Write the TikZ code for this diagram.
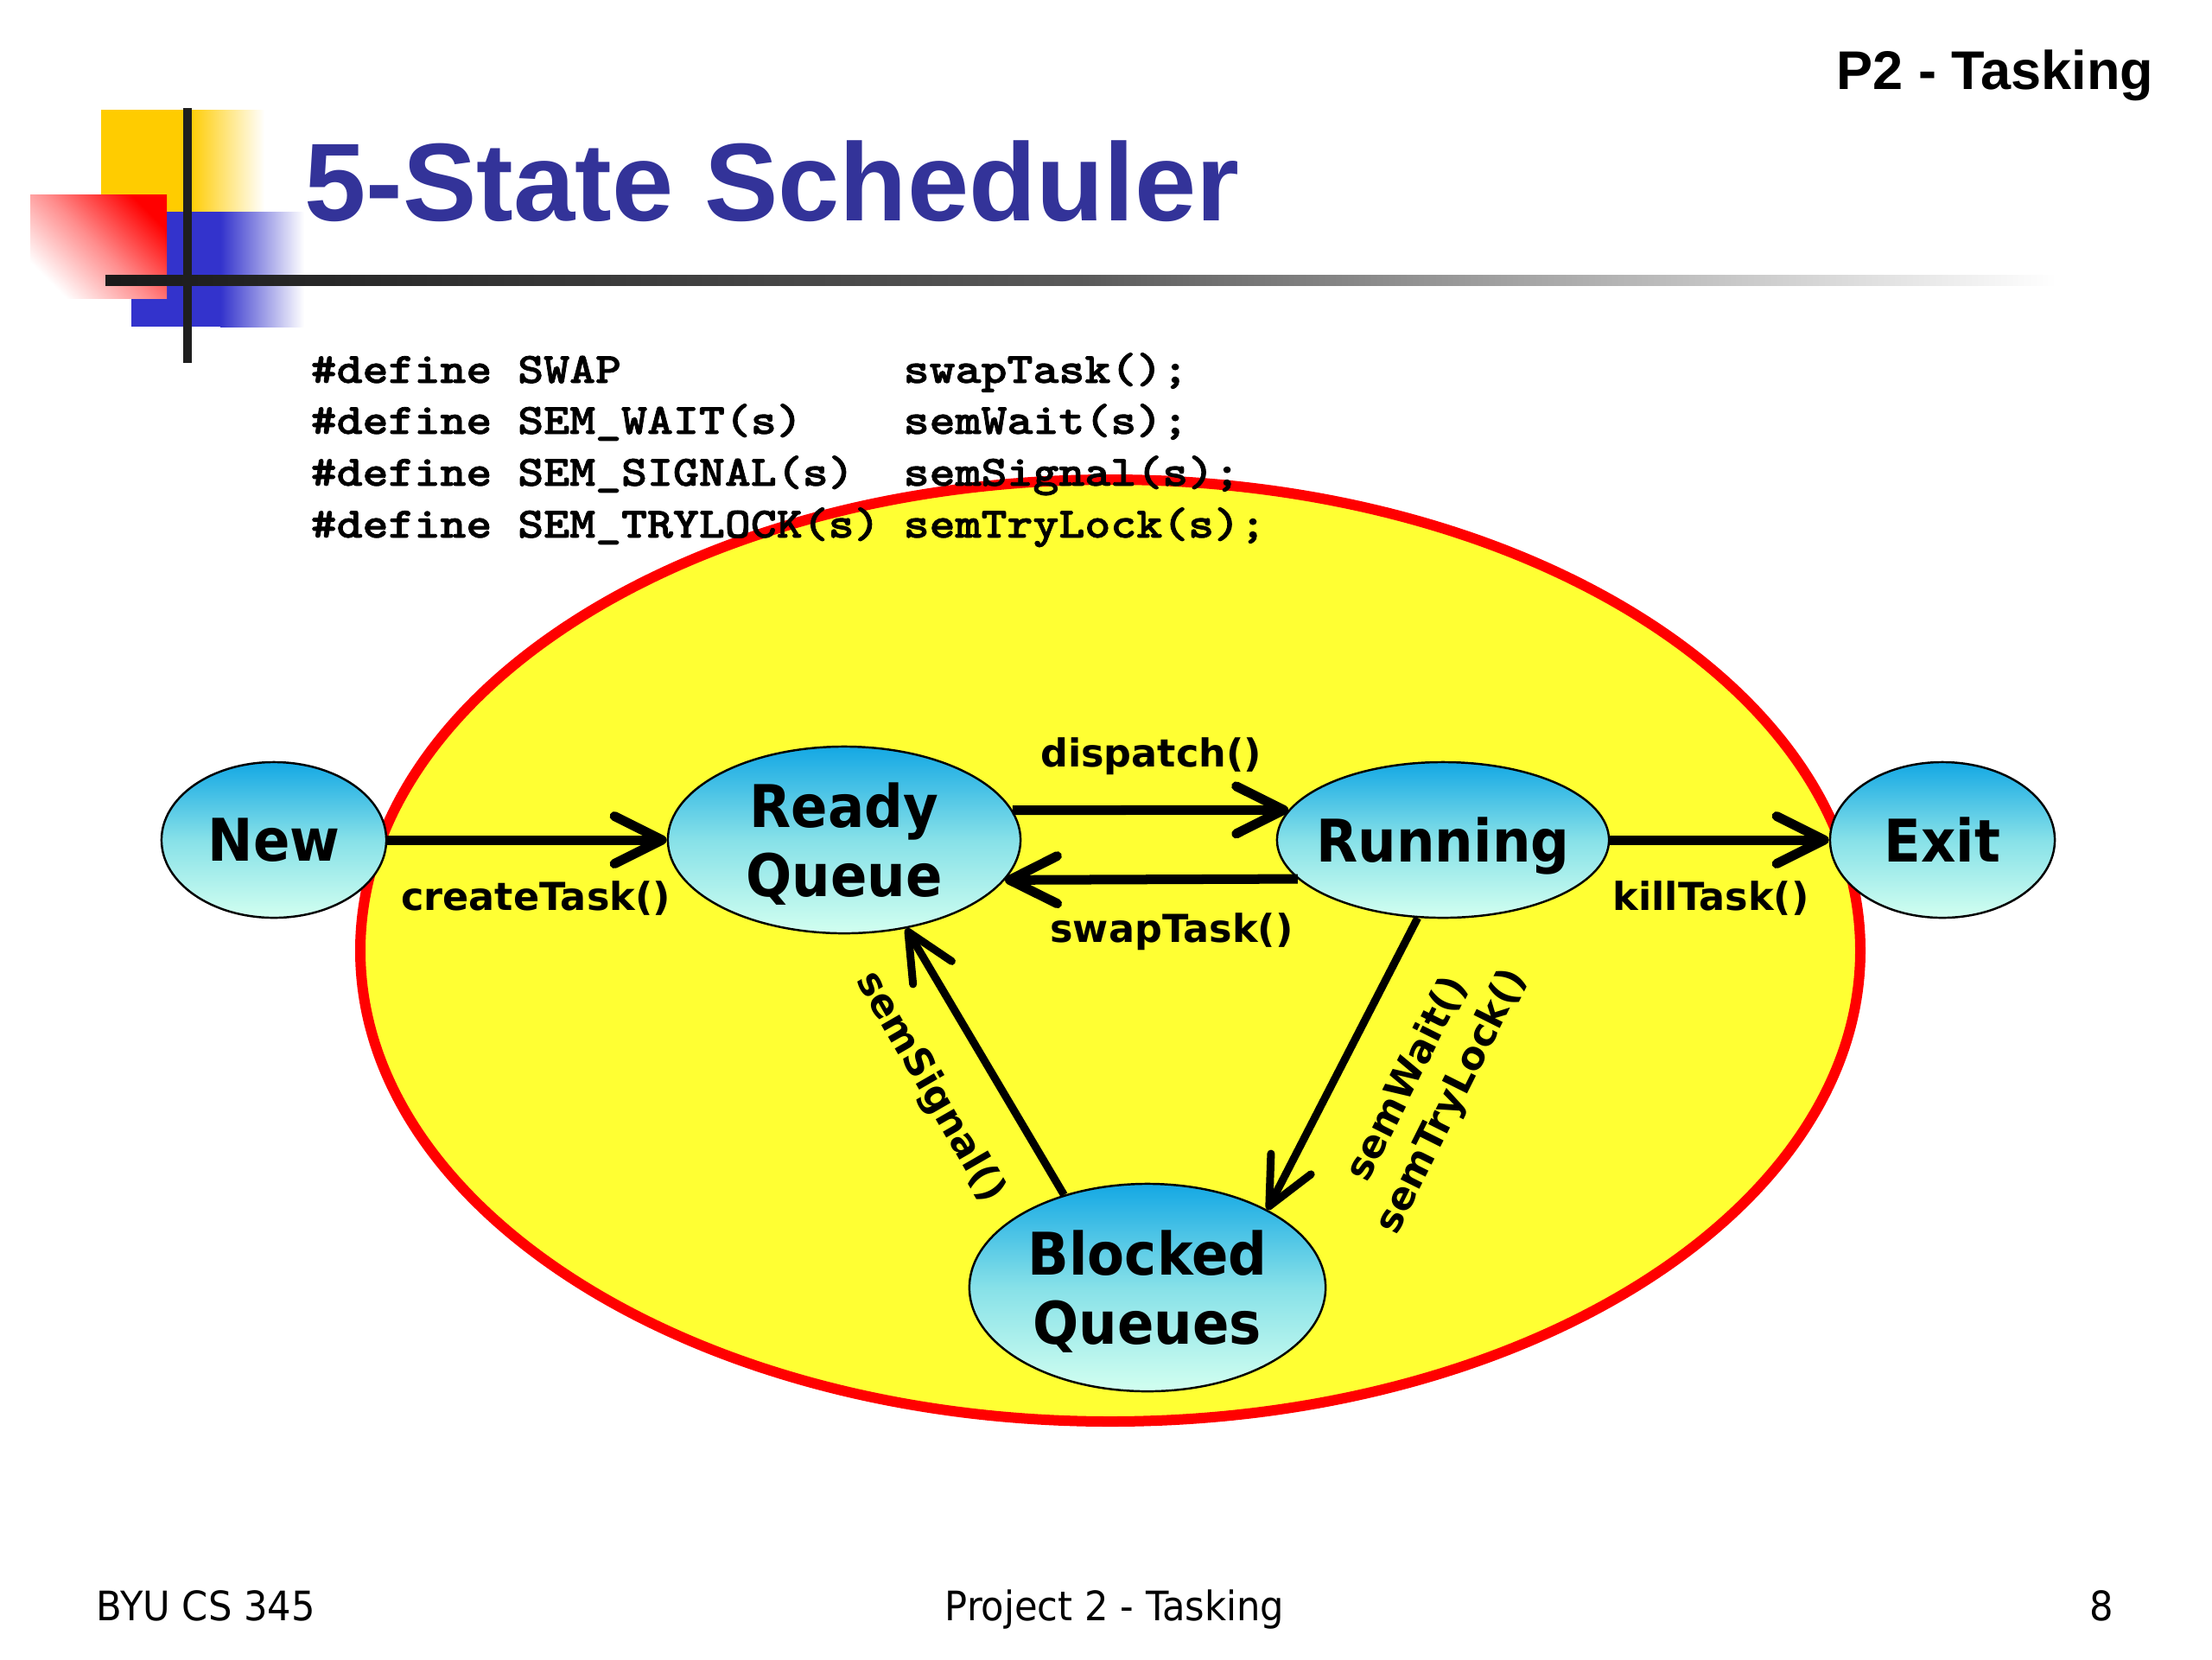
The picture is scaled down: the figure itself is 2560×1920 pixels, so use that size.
\documentclass[tikz,border=0pt]{standalone}
\usepackage{fontspec}
\setmainfont{DejaVu Sans}
\newfontfamily\titlefont{Liberation Sans}
\newfontfamily\codefont{lmmonolt10-bold}[Extension=.otf, FakeStretch=1.14, FakeBold=1.6]
\newfontfamily\nodefont{DejaVu Sans}[FakeStretch=0.92]
\usetikzlibrary{arrows.meta,shapes.geometric}
\definecolor{titleblue}{RGB}{51,51,153}
\definecolor{bigfill}{RGB}{255,255,51}
\definecolor{bigline}{RGB}{255,0,0}
\definecolor{sttop}{RGB}{20,168,228}
\definecolor{stmid}{RGB}{135,225,232}
\definecolor{stbot}{RGB}{210,255,240}
\definecolor{decoyellow}{RGB}{255,204,0}
\definecolor{decoblue}{RGB}{51,51,204}
\definecolor{decored}{RGB}{255,0,0}
\begin{document}
\begin{tikzpicture}[x=0.01cm,y=-0.01cm,
  state/.style={ellipse, draw=black, line width=0.7pt,
    top color=sttop, bottom color=stbot, middle color=stmid,
    inner xsep=-0.2cm, inner ysep=0pt, align=center, text depth=0pt,
    font=\nodefont\bfseries\fontsize{19.35pt}{22.76pt}\selectfont},
  lbl/.style={font=\bfseries\fontsize{12.66pt}{16.2pt}\selectfont, inner sep=0pt, align=center},
  code/.style={font=\codefont\fontsize{14.23pt}{17pt}\selectfont, anchor=base west, inner sep=0pt},
  foot/.style={font=\nodefont\fontsize{13.37pt}{16pt}\selectfont, inner sep=0pt},
  harr/.style={line width=0.11cm, -{Straight Barb[length=0.55cm,width=0.55cm,round]}},
  darr/.style={line width=0.09cm, -{Straight Barb[length=0.55cm,width=0.52cm,round]}},
]
\useasboundingbox (0,0) rectangle (2560,1920);
\fill[white] (0,0) rectangle (2560,1920);

% corner decoration
\fill[decoyellow] (117,127) rectangle (221,245);
\shade[left color=decoyellow, right color=white] (219,127) rectangle (306,245);
\fill[decoblue] (152,245) rectangle (257,378);
\shade[left color=decoblue, right color=white] (255,245) rectangle (352,378);
\shade[shading=axis, top color=decored, bottom color=white, middle color=decored!45, shading angle=-45] (35,225) rectangle (193,345);
\shade[left color=black!90, right color=white, middle color=black!65] (122,318) rectangle (2380,330);
\fill[black!88] (212,125) rectangle (222,420);

% big ellipse
\draw[line width=0.12cm, draw=bigline, fill=bigfill] (1285,1100) ellipse [x radius=868, y radius=545];

% header and title
\node[anchor=base east, inner sep=0pt, font=\titlefont\bfseries\fontsize{17.93pt}{20pt}\selectfont] (header) at (2493,103) {P2 - Tasking};
\node[anchor=base west, inner sep=0pt, font=\titlefont\bfseries\fontsize{36.42pt}{40pt}\selectfont, text=titleblue] (title) at (352,255) {5-State Scheduler};

% code
\node[code] (c1a) at (359,443) {\#define SWAP};
\node[code] (c1b) at (1045,443) {swapTask();};
\node[code] (c2a) at (359,502) {\#define SEM\_WAIT(s)};
\node[code] (c2b) at (1045,502) {semWait(s);};
\node[code] (c3a) at (359,562) {\#define SEM\_SIGNAL(s)};
\node[code] (c3b) at (1045,562) {semSignal(s);};
\node[code] (c4a) at (359,622) {\#define SEM\_TRYLOCK(s)};
\node[code] (c4b) at (1045,622) {semTryLock(s);};

% states
\node[state, minimum width=2.6cm, minimum height=1.8cm] (new) at (317,972) {New};
\node[state, minimum width=4.08cm, minimum height=2.16cm] (ready) at (977,972) {Ready\\Queue};
\node[state, minimum width=3.84cm, minimum height=1.8cm] (running) at (1670,972) {Running};
\node[state, minimum width=2.6cm, minimum height=1.8cm] (exit) at (2248,972) {Exit};
\node[state, minimum width=4.12cm, minimum height=2.4cm] (blocked) at (1328,1490) {Blocked\\Queues};

% transitions
\draw[harr] (new.east) -- (ready.west);
\draw[harr] (ready.10) -- (running.169);
\draw[harr] (running.195) -- (ready.-14);
\draw[harr] (running.east) -- (exit.west);
\draw[darr] (blocked.132) -- (ready.-55);
\draw[darr] (running.252) -- (blocked.33);

% labels
\node[lbl, anchor=base] (lcreate) at (620,1053) {createTask()};
\node[lbl, anchor=base] (ldispatch) at (1332,887) {dispatch()};
\node[lbl, anchor=base] (lswap) at (1356,1090) {swapTask()};
\node[lbl, anchor=base] (lkill) at (1980,1053) {killTask()};
\node[lbl, rotate=-60] (lsignal) at (1076,1258) {semSignal()};
\node[lbl, rotate=63.4] (lwait) at (1655,1262) {semWait()\\semTryLock()};

% footer
\node[foot, anchor=base west] (f1) at (111,1875) {BYU CS 345};
\node[foot, anchor=base] (f2) at (1290,1875) {Project 2 - Tasking};
\node[foot, anchor=base east] (f3) at (2447,1875) {8};
\end{tikzpicture}
\end{document}
